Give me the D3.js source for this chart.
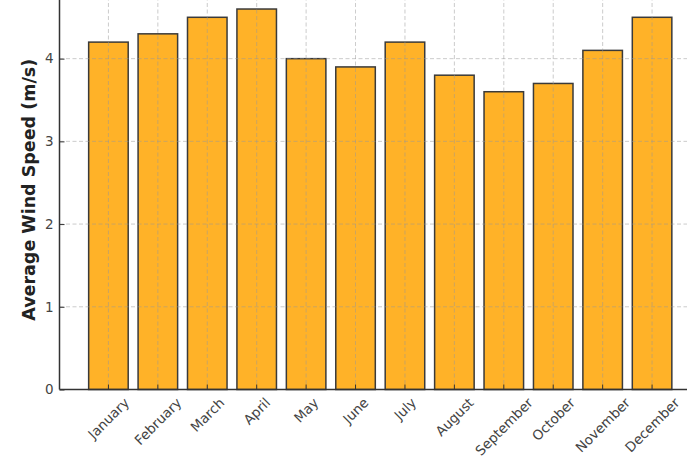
<!DOCTYPE html>
<html>
<head>
<meta charset="utf-8">
<script src="https://cdn.jsdelivr.net/npm/d3@7"></script>
<style>
    html, body { margin: 0; padding: 0; background: #ffffff; }
    svg { display: block; font-family: 'DejaVu Sans', sans-serif; }
</style>
</head>
<body>
<svg id="chart" width="687" height="460"></svg>
<script>
// Chart data
const months = ['January', 'February', 'March', 'April', 'May', 'June',
    'July', 'August', 'September', 'October', 'November', 'December'];
const windSpeed = [4.2, 4.3, 4.5, 4.6, 4.0, 3.9, 4.2, 3.8, 3.6, 3.7, 4.1, 4.5];
const yTicks = [0, 1, 2, 3, 4];

const svg = d3.select('#chart');

// Plot area (top and right edges fall outside the picture)
const plot = { left: 59.5, right: 701, top: -10, bottom: 389.5 };

// Positions as in matplotlib: bar i at i, width 0.8, 5% margins
const x = d3.scaleLinear()
    .domain([-0.99, months.length - 1 + 0.99])
    .range([plot.left, plot.right]);

const y = d3.scaleLinear()
    .domain([0, 4.83])
    .range([plot.bottom, plot.top]);

const barWidth = 0.8;
const axisColor = '#333333';

// Bars
svg.append('g')
    .attr('class', 'bars')
    .selectAll('rect')
    .data(windSpeed)
    .join('rect')
    .attr('x', (d, i) => x(i - barWidth / 2))
    .attr('y', d => y(d))
    .attr('width', x(barWidth) - x(0))
    .attr('height', d => y(0) - y(d))
    .attr('fill', 'rgb(255,178,40)')
    .attr('stroke', '#3a3a3a')
    .attr('stroke-width', 1.5);

// Grid on top of the bars
const grid = svg.append('g').attr('class', 'grid');

grid.selectAll('line.v')
    .data(months)
    .join('line')
    .attr('class', 'v')
    .attr('x1', (d, i) => x(i))
    .attr('x2', (d, i) => x(i))
    .attr('y1', plot.top)
    .attr('y2', plot.bottom)
    .attr('stroke', '#999999')
    .attr('stroke-width', 0.9)
    .attr('stroke-dasharray', '4,2.5')
    .attr('opacity', 0.55);

grid.selectAll('line.h')
    .data(yTicks.slice(1))
    .join('line')
    .attr('class', 'h')
    .attr('x1', plot.left)
    .attr('x2', plot.right)
    .attr('y1', d => y(d))
    .attr('y2', d => y(d))
    .attr('stroke', '#999999')
    .attr('stroke-width', 0.9)
    .attr('stroke-dasharray', '4,2.5')
    .attr('opacity', 0.55);

// Y axis
const yAxis = svg.append('g')
    .attr('transform', `translate(${plot.left},0)`)
    .call(d3.axisLeft(y).tickValues(yTicks).tickFormat(d3.format('d'))
        .tickSizeInner(-5).tickSizeOuter(0).tickPadding(6));

yAxis.select('.domain').remove();
yAxis.selectAll('.tick line').attr('stroke', axisColor).attr('stroke-width', 1);
yAxis.selectAll('.tick text')
    .attr('fill', '#444444')
    .style('font-size', '13.5px')
    .style('font-family', "'DejaVu Sans', sans-serif");

// X axis ticks (inward)
const xTickGroup = svg.append('g').attr('class', 'x-ticks');
xTickGroup.selectAll('line')
    .data(months)
    .join('line')
    .attr('x1', (d, i) => x(i))
    .attr('x2', (d, i) => x(i))
    .attr('y1', plot.bottom)
    .attr('y2', plot.bottom - 5)
    .attr('stroke', axisColor)
    .attr('stroke-width', 1);

// Rotated month labels, centred under the tick like ha='center', rotation=45
const labelTop = plot.bottom + 6;
const labels = svg.append('g').attr('class', 'x-labels')
    .selectAll('text')
    .data(months)
    .join('text')
    .attr('text-anchor', 'middle')
    .attr('dominant-baseline', 'central')
    .attr('fill', '#444444')
    .style('font-size', '13.5px')
    .text(d => d);

labels.each(function (d, i) {
    const len = this.getComputedTextLength();
    const half = Math.SQRT1_2 * (len + 13) / 2;
    const cx = x(i);
    const cy = labelTop + half;
    d3.select(this)
        .attr('x', cx)
        .attr('y', cy)
        .attr('transform', `rotate(-45, ${cx}, ${cy})`);
});

// Spines
svg.append('line')
    .attr('x1', plot.left).attr('x2', plot.left)
    .attr('y1', plot.top).attr('y2', plot.bottom)
    .attr('stroke', axisColor).attr('stroke-width', 1.5);

svg.append('line')
    .attr('x1', plot.left).attr('x2', plot.right)
    .attr('y1', plot.bottom).attr('y2', plot.bottom)
    .attr('stroke', axisColor).attr('stroke-width', 1.5);

// Y axis title
svg.append('text')
    .attr('transform', `translate(29, ${(plot.top + plot.bottom) / 2}) rotate(-90)`)
    .attr('text-anchor', 'middle')
    .attr('dominant-baseline', 'central')
    .attr('fill', '#222222')
    .style('font-size', '17.5px')
    .style('font-weight', 'bold')
    .text('Average Wind Speed (m/s)');
</script>
</body>
</html>
